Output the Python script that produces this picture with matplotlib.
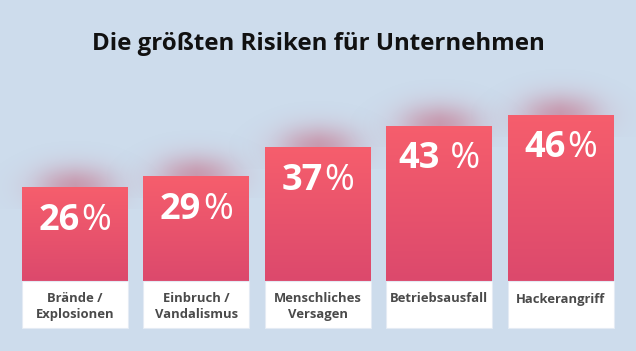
import numpy as np
import matplotlib
matplotlib.use("Agg")
import matplotlib.pyplot as plt
from matplotlib.patches import Rectangle
from matplotlib.colors import LinearSegmentedColormap

# ---- data ----
categories = ["Brände /\nExplosionen", "Einbruch /\nVandalismus",
              "Menschliches\nVersagen", "Betriebsausfall", "Hackerangriff"]
values = [26, 29, 37, 43, 46]
pct_signs = ["%", "%", "%", " %", "%"]
title = "Die größten Risiken für Unternehmen"

FONT = ["Open Sans", "DejaVu Sans"]
BG = "#cddcec"

W, H, DPI = 636, 351, 100
fig = plt.figure(figsize=(W / DPI, H / DPI), dpi=DPI)
fig.patch.set_facecolor(BG)
ax = fig.add_axes([0, 0, 1, 1])
ax.set_facecolor(BG)
ax.axis("off")

PX_X = 121.4   # px per category step
PX_Y = 3.61    # px per percent
X0 = 75.0      # px of first bar centre
Y0 = 281.0     # px from top of the bar baseline
XLIM = (-X0 / PX_X, (W - X0) / PX_X)
YLIM = (-(H - Y0) / PX_Y, Y0 / PX_Y)
BW = 0.873

x = np.arange(len(values))

# glow above bars
for xi, v in zip(x, values):
    gx = np.linspace(xi - 0.9, xi + 0.9, 240)
    gy = np.linspace(v - 6, v + 16, 180)
    GX, GY = np.meshgrid(gx, gy)
    dxp = (GX - xi) * PX_X
    dyp = (GY - v) * PX_Y
    half = BW * PX_X / 2 - 22
    fx = 1 / (1 + np.exp((np.abs(dxp) - half) / 12))
    fy = np.exp(-((dyp - 0) / 21) ** 2)
    rgba = np.zeros(GX.shape + (4,))
    rgba[..., 0] = 0.76
    rgba[..., 1] = 0.36
    rgba[..., 2] = 0.46
    rgba[..., 3] = 0.55 * fx * fy
    ax.imshow(rgba, extent=[gx[0], gx[-1], gy[0], gy[-1]], origin="lower",
              aspect="auto", zorder=1, interpolation="bilinear")

# bars with gradient
cmap = LinearSegmentedColormap.from_list("g", ["#dc496d", "#f65e6c"])
bars = ax.bar(x, values, width=BW, color="none", zorder=3)
grad = np.linspace(0, 1, 256).reshape(-1, 1)
for b in bars:
    im = ax.imshow(grad, cmap=cmap,
                   extent=[b.get_x(), b.get_x() + b.get_width(), 0, b.get_height()],
                   origin="lower", aspect="auto", zorder=3)
    im.set_clip_path(b)

# white label boxes
box_h = 47 / PX_Y
for xi, cat in zip(x, categories):
    ax.add_patch(Rectangle((xi - BW / 2, -box_h), BW, box_h, facecolor="white",
                           edgecolor="#e4ebf4", linewidth=0.8, zorder=3))
    ax.text(xi, -11.5 / PX_Y, cat, ha="center", va="top", fontsize=9.4,
            fontweight="bold", color="#4a4a4a", family=FONT,
            linespacing=1.22, zorder=4)

ax.set_xlim(*XLIM)
ax.set_ylim(*YLIM)

# percent labels: bold number + regular sign, centred together
fig.canvas.draw()
r = fig.canvas.get_renderer()
for xi, v, s in zip(x, values, pct_signs):
    yb = v - 42.5 / PX_Y
    t1 = ax.text(0, yb, str(v), fontsize=26, fontweight="bold", color="white",
                 family=FONT, ha="left", va="baseline", zorder=5)
    t2 = ax.text(0, yb, s, fontsize=26, color="white",
                 family=FONT, ha="left", va="baseline", zorder=5)
    w1 = t1.get_window_extent(r).width + 2
    w2 = t2.get_window_extent(r).width
    cx = ax.transData.transform((xi, yb))[0]
    left = cx - (w1 + w2) / 2
    inv = ax.transData.inverted()
    t1.set_x(inv.transform((left, 0))[0])
    t2.set_x(inv.transform((left + w1, 0))[0])

fig.text(0.5, 1 - 50 / H, title, ha="center", va="baseline", fontsize=17.3,
         fontweight="bold", color="#111111", family=FONT)

fig.savefig("out.png", dpi=DPI, facecolor=BG)
